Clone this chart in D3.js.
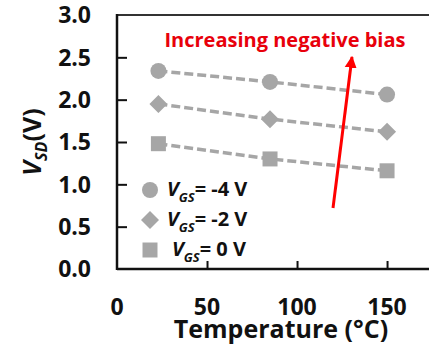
<!DOCTYPE html>
<html>
<head>
<meta charset="UTF-8">
<title></title>
<style>
    body { margin: 0; background: #fff; }
    svg { display: block; font-family: "Open Sans", Lato, sans-serif; font-weight: bold; }
</style>
<script src="https://d3js.org/d3.v7.min.js"></script>
</head>
<body>
<div id="chart"></div>
<script>
    var temps = [23, 85, 150];
    var vgs4 = [2.34, 2.21, 2.06];
    var vgs2 = [1.95, 1.77, 1.62];
    var vgs0 = [1.48, 1.30, 1.16];
    var seriesNames = ['-4 V', '-2 V', '0 V'];
    var xTicks = [0, 50, 100, 150];
    var yTicks = [0, 0.5, 1.0, 1.5, 2.0, 2.5, 3.0];

    var width = 429, height = 350;
    var padL = 117, padT = 15, padB = 269;
    var grey = '#a6a6a6';

    var svg = d3.select('#chart').append('svg')
            .attr('width', width)
            .attr('height', height);

    var x = d3.scaleLinear().domain([0, 173.3]).range([padL, width]);
    var y = d3.scaleLinear().domain([0, 3]).range([padB, padT]);

    // frame: top line + axes
    svg.append('line')
            .attr('x1', padL).attr('x2', width)
            .attr('y1', padT).attr('y2', padT)
            .attr('stroke', '#333').attr('stroke-width', 2);

    var yAxis = svg.append('g')
            .attr('transform', 'translate(' + padL + ',0)')
            .call(d3.axisRight(y).tickValues(yTicks.slice(1, 6)).tickSize(10).tickFormat(''));
    yAxis.select('.domain').remove();
    yAxis.selectAll('line').attr('stroke', '#111').attr('stroke-width', 2);

    var xAxis = svg.append('g')
            .attr('transform', 'translate(0,' + padB + ')')
            .call(d3.axisTop(x).tickValues([50, 100, 150]).tickSize(8).tickFormat(''));
    xAxis.select('.domain').remove();
    xAxis.selectAll('line').attr('stroke', '#111').attr('stroke-width', 2);

    svg.append('line')
            .attr('x1', padL).attr('x2', padL)
            .attr('y1', padT - 1).attr('y2', padB + 1)
            .attr('stroke', '#111').attr('stroke-width', 2.5);
    svg.append('line')
            .attr('x1', padL).attr('x2', width)
            .attr('y1', padB).attr('y2', padB)
            .attr('stroke', '#111').attr('stroke-width', 2.5);

    // tick labels
    svg.selectAll('.ylab').data(yTicks).enter().append('text')
            .attr('x', 91)
            .attr('y', function (d) { return y(d); })
            .attr('dy', '0.36em')
            .attr('text-anchor', 'end')
            .attr('font-size', 23)
            .attr('fill', '#111')
            .text(function (d) { return d.toFixed(1); });

    svg.selectAll('.xlab').data(xTicks).enter().append('text')
            .attr('x', function (d) { return x(d); })
            .attr('y', 307)
            .attr('dy', '0.36em')
            .attr('text-anchor', 'middle')
            .attr('font-size', 23)
            .attr('fill', '#111')
            .text(function (d) { return d; });

    svg.append('text')
            .attr('x', 281).attr('y', 329)
            .attr('dy', '0.36em')
            .attr('text-anchor', 'middle')
            .attr('font-size', 25)
            .attr('fill', '#111')
            .text('Temperature (°C)');

    var yl = svg.append('text')
            .attr('transform', 'translate(41,142) rotate(-90)')
            .attr('text-anchor', 'middle')
            .attr('font-size', 25)
            .attr('fill', '#111');
    yl.append('tspan').attr('font-style', 'italic').text('V');
    yl.append('tspan').attr('font-style', 'italic').attr('font-size', 16).attr('dy', 6).text('SD');
    yl.append('tspan').attr('dy', -6).text('(V)');

    // markers
    function marker(k) {
        if (k == 0) return 'M8,0A8,8 0 1,1 -8,0A8,8 0 1,1 8,0Z';
        if (k == 1) return 'M0,-9L9,0L0,9L-9,0Z';
        return 'M-7.5,-7.5H7.5V7.5H-7.5Z';
    }

    var series = [vgs4, vgs2, vgs0];
    var line = d3.line()
            .x(function (d, i) { return x(temps[i]); })
            .y(function (d) { return y(d); });

    series.forEach(function (s, k) {
        svg.append('path')
                .attr('d', line(s))
                .attr('fill', 'none')
                .attr('stroke', grey)
                .attr('stroke-width', 3.5)
                .attr('stroke-dasharray', '9,4');
        svg.selectAll('.pt' + k).data(s).enter().append('path')
                .attr('d', marker(k))
                .attr('transform', function (d, i) { return 'translate(' + x(temps[i]) + ',' + y(d) + ')'; })
                .attr('fill', grey);
    });

    // legend
    var legY = [190, 220, 250];
    seriesNames.forEach(function (n, k) {
        svg.append('path')
                .attr('d', marker(k))
                .attr('transform', 'translate(150,' + legY[k] + ')')
                .attr('fill', grey);
        var t = svg.append('text')
                .attr('x', k == 2 ? 172 : 167).attr('y', legY[k] - 1)
                .attr('dy', '0.36em')
                .attr('font-size', 20)
                .attr('fill', '#111');
        t.append('tspan').attr('font-style', 'italic').text('V');
        t.append('tspan').attr('font-style', 'italic').attr('font-size', 13).attr('dy', 6).text('GS');
        t.append('tspan').attr('dy', -6).text('= ' + n);
    });

    // red arrow
    svg.append('defs').append('marker')
            .attr('id', 'head')
            .attr('viewBox', '0 0 10 10')
            .attr('refX', 9).attr('refY', 5)
            .attr('markerWidth', 4).attr('markerHeight', 5)
            .attr('orient', 'auto')
            .append('path').attr('d', 'M0,0L10,5L0,10Z').attr('fill', '#ff0000');
    svg.append('line')
            .attr('x1', 333).attr('y1', 208)
            .attr('x2', 352).attr('y2', 57)
            .attr('stroke', '#ff0000').attr('stroke-width', 3)
            .attr('marker-end', 'url(#head)');

    svg.append('text')
            .attr('x', 285).attr('y', 40)
            .attr('dy', '0.36em')
            .attr('text-anchor', 'middle')
            .attr('font-size', 20)
            .attr('fill', '#e8000b')
            .text('Increasing negative bias');
</script>
</body>
</html>
